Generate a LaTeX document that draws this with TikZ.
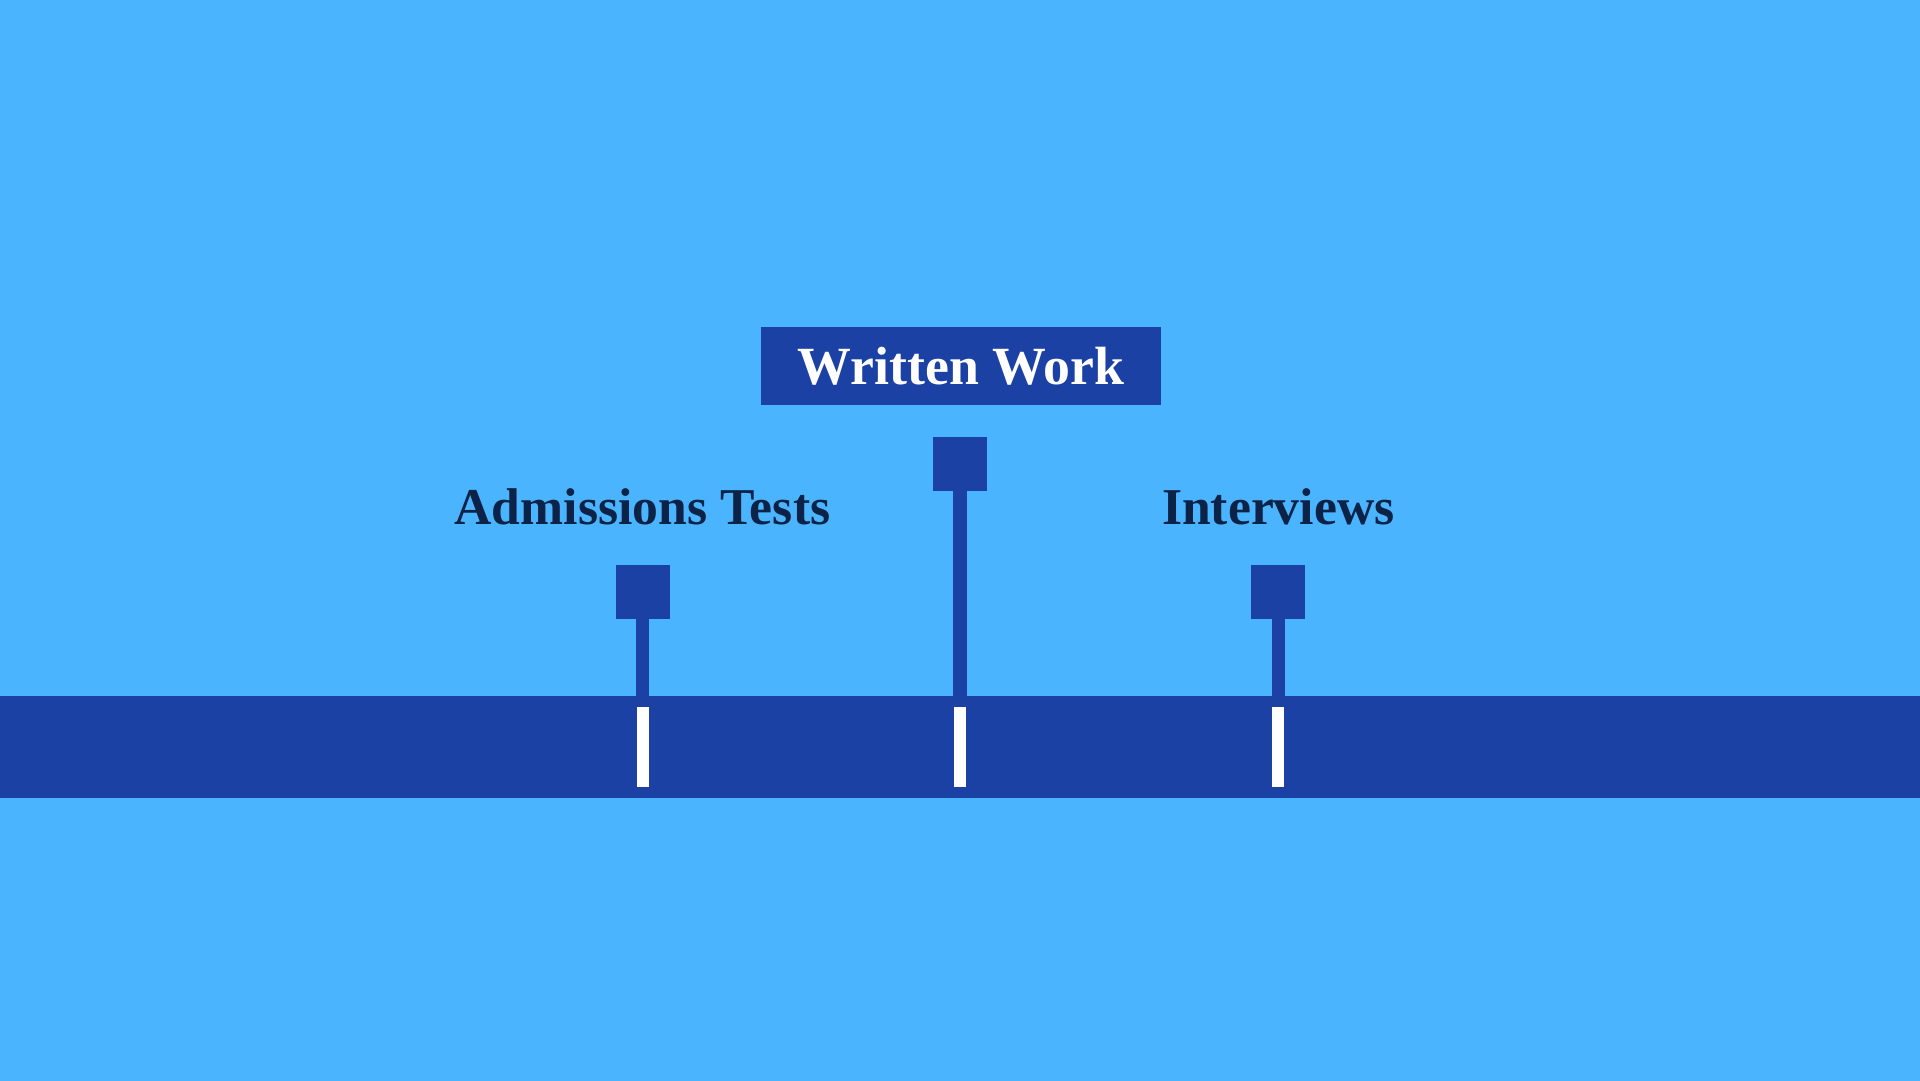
\documentclass[tikz,border=0pt]{standalone}
\usepackage{fontspec}
\setmainfont{Liberation Serif}
\definecolor{bg}{HTML}{4AB4FE}
\definecolor{navy}{HTML}{1C41A4}
\definecolor{ink}{HTML}{0D2247}
\begin{document}
\begin{tikzpicture}[x=0.1mm,y=-0.1mm,
  sq/.style={fill=navy, minimum width=5.4mm, minimum height=5.4mm, inner sep=0pt},
  lbl/.style={font=\fontsize{14.7}{18}\selectfont\bfseries, text=ink, anchor=base, inner sep=0pt},
  stem/.style={draw=navy, line width=1.35mm, shorten <=-1pt, shorten >=-1pt},
  tickmark/.style={fill=white, minimum width=1.2mm, minimum height=8mm, inner sep=0pt}]
\useasboundingbox (0,0) rectangle (1920,1080);
\fill[bg] (-10,-10) rectangle (1930,1090);
\node[fill=navy, minimum width=194mm, minimum height=10.2mm, inner sep=0pt, anchor=north west] (band) at (-10,695) {};
% title box
\node[fill=navy, minimum width=40mm, minimum height=7.8mm, inner sep=0pt, text height=3.7mm, text depth=0pt,
  text=white, font=\fontsize{15.3}{18}\selectfont\bfseries] (wbox) at (961,365.5) {Written Work};
% squares
\node[sq] (s1) at (642.5,592) {};
\node[sq] (s2) at (960,464) {};
\node[sq] (s3) at (1278.3,592) {};
% stems
\draw[stem] (s1.south) -- (s1.south |- band.north);
\draw[stem] (s2.south) -- (s2.south |- band.north);
\draw[stem] (s3.south) -- (s3.south |- band.north);
% ticks
\node[tickmark] (t1) at (642.5,747) {};
\node[tickmark] (t2) at (960,747) {};
\node[tickmark] (t3) at (1278.3,747) {};
% labels
\node[lbl] (l1) at (642.5,524) {Admissions Tests};
\node[lbl] (l3) at (1278.3,524) {Interviews};
\end{tikzpicture}
\end{document}
